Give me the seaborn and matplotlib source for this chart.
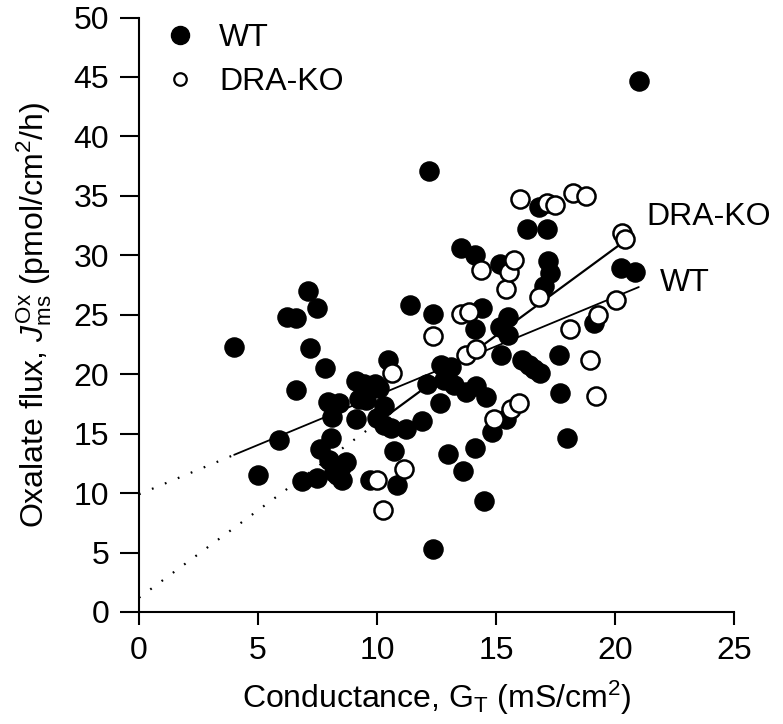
import numpy as np
import pandas as pd
import matplotlib
matplotlib.use("Agg")
import matplotlib.pyplot as plt
from matplotlib.lines import Line2D
import seaborn as sns

# WT (filled circles)
wt_g = [4.0, 5.0, 5.9, 6.2, 6.6, 6.6, 6.85, 7.1, 7.2, 7.5, 7.5, 7.6, 7.8, 7.95,
        8.05, 8.1, 8.4, 8.0, 8.2, 8.5, 8.7, 8.55, 8.3,
        9.1, 9.1, 9.25, 9.45, 9.55, 9.7, 9.9, 10.1, 10.0, 10.3, 10.45, 10.3,
        10.6, 10.7, 10.85, 11.2, 11.4, 11.9, 12.2, 12.1, 12.35, 12.35, 12.65,
        12.7, 12.8, 13.0, 13.1, 13.25, 13.55, 13.6, 13.75, 14.1, 14.1, 14.1,
        14.15, 14.4, 14.5, 14.6, 14.85, 15.15, 15.15, 15.2, 15.4, 15.5, 15.5,
        16.1, 16.3, 16.4, 16.6, 16.85, 16.8, 17.0, 17.15, 17.2, 17.25, 17.65,
        17.7, 18.0, 19.1, 20.25, 20.85, 21.0]
wt_flux = [22.3, 11.5, 14.5, 24.8, 24.7, 18.7, 11.0, 27.0, 22.2, 25.6, 11.3, 13.7,
           20.5, 17.7, 14.6, 16.4, 17.6, 12.8, 11.8, 12.2, 12.6, 11.1, 11.5,
           19.4, 16.2, 17.9, 19.2, 17.8, 11.1, 19.2, 18.8, 16.3, 17.3, 21.2, 15.7,
           15.5, 13.5, 10.7, 15.4, 25.8, 16.1, 37.1, 19.2, 25.1, 5.3, 17.6,
           20.8, 19.5, 13.3, 20.6, 19.1, 30.6, 11.9, 18.5, 30.0, 23.8, 13.8,
           19.0, 25.6, 9.3, 18.1, 15.1, 29.3, 24.0, 21.6, 16.2, 24.8, 23.3,
           21.2, 32.2, 20.8, 20.4, 20.1, 34.1, 27.4, 32.2, 29.5, 28.5, 21.6,
           18.4, 14.6, 24.3, 28.9, 28.6, 44.7]

# DRA-KO (open circles)
ko_g = [10.0, 10.25, 10.65, 11.15, 12.35, 13.55, 13.75, 13.85, 14.15, 14.35,
        14.9, 15.4, 15.55, 15.75, 15.65, 15.95, 16.0, 16.8, 17.15, 17.5, 18.1,
        18.25, 18.8, 18.95, 19.2, 19.3, 20.05, 20.3, 20.4]
ko_flux = [11.1, 8.6, 20.1, 12.0, 23.2, 25.1, 21.6, 25.2, 22.1, 28.8,
           16.2, 27.2, 28.6, 29.6, 17.1, 17.6, 34.7, 26.5, 34.4, 34.2, 23.8,
           35.2, 35.0, 21.2, 18.2, 25.0, 26.2, 31.9, 31.4]

# regression lines: (intercept, slope)
wt_fit = [9.9, 0.83]
ko_fit = [1.2, 1.47]

FS = 23

sns.set_theme(style="ticks")
plt.rcParams["font.family"] = ["Liberation Sans", "DejaVu Sans"]
plt.rcParams["text.color"] = "black"
plt.rcParams["mathtext.fontset"] = "custom"
plt.rcParams["mathtext.rm"] = "Liberation Sans"
plt.rcParams["mathtext.it"] = "Liberation Sans:italic"

wt = pd.DataFrame({"g": wt_g, "flux": wt_flux})
ko = pd.DataFrame({"g": ko_g, "flux": ko_flux})

fig = plt.figure(figsize=(7.83, 7.24), dpi=100)
ax = fig.add_axes([0.1775, 0.1547, 0.7599, 0.8211])


def draw_fit(df, fit, lw):
    b0, b1 = fit
    xs = np.linspace(df["g"].min(), df["g"].max(), 50)
    ax.plot(xs, b0 + b1 * xs, color="black", lw=lw, zorder=1)
    xd = np.linspace(0, df["g"].min(), 20)
    ax.plot(xd, b0 + b1 * xd, color="black", lw=1.6,
            ls=(0, (0.8, 5.5)), zorder=1)


draw_fit(wt, wt_fit, 1.3)
draw_fit(ko, ko_fit, 1.6)

sns.scatterplot(data=wt, x="g", y="flux", ax=ax, s=190, color="black",
                edgecolor="black", linewidth=1.0, zorder=2, legend=False)
sns.scatterplot(data=ko, x="g", y="flux", ax=ax, s=170, color="white",
                edgecolor="black", linewidth=1.8, zorder=3, legend=False)

ax.text(21.3, 33.2, "DRA-KO", fontsize=FS, va="center", ha="left", clip_on=False)
ax.text(21.9, 27.7, "WT", fontsize=FS, va="center", ha="left", clip_on=False)

ax.set_xlim(0, 25)
ax.set_ylim(0, 50)
ax.set_xticks(range(0, 26, 5))
ax.set_yticks(range(0, 51, 5))
ax.tick_params(direction="out", width=1.5, labelsize=FS,
               color="black", labelcolor="black")
ax.tick_params(axis="x", length=9.5, pad=8)
ax.tick_params(axis="y", length=14, pad=7.5)
for side in ["top", "right"]:
    ax.spines[side].set_visible(False)
for side in ["left", "bottom"]:
    ax.spines[side].set_linewidth(1.5)
    ax.spines[side].set_color("black")
ax.set_facecolor("white")

ax.set_xlabel(r"Conductance, G$_{\rm T}$ (mS/cm$^2$)", fontsize=FS,
              color="black", labelpad=9)
ax.set_ylabel(r"Oxalate flux, $J^{\rm Ox}_{\rm ms}$ (pmol/cm$^2$/h)",
              fontsize=FS, color="black", labelpad=14)

handles = [
    Line2D([], [], ls="", marker="o", ms=13, mfc="black", mec="black"),
    Line2D([], [], ls="", marker="o", ms=9, mfc="white", mec="black", mew=1.6),
]
ax.legend(handles, ["WT", "DRA-KO"], loc="upper left", frameon=False,
          fontsize=FS, handlelength=1.0, handletextpad=0.72,
          labelspacing=0.42, borderpad=0, borderaxespad=0,
          bbox_to_anchor=(0.042, 0.99))

fig.savefig("out.png", dpi=100, facecolor="white")
